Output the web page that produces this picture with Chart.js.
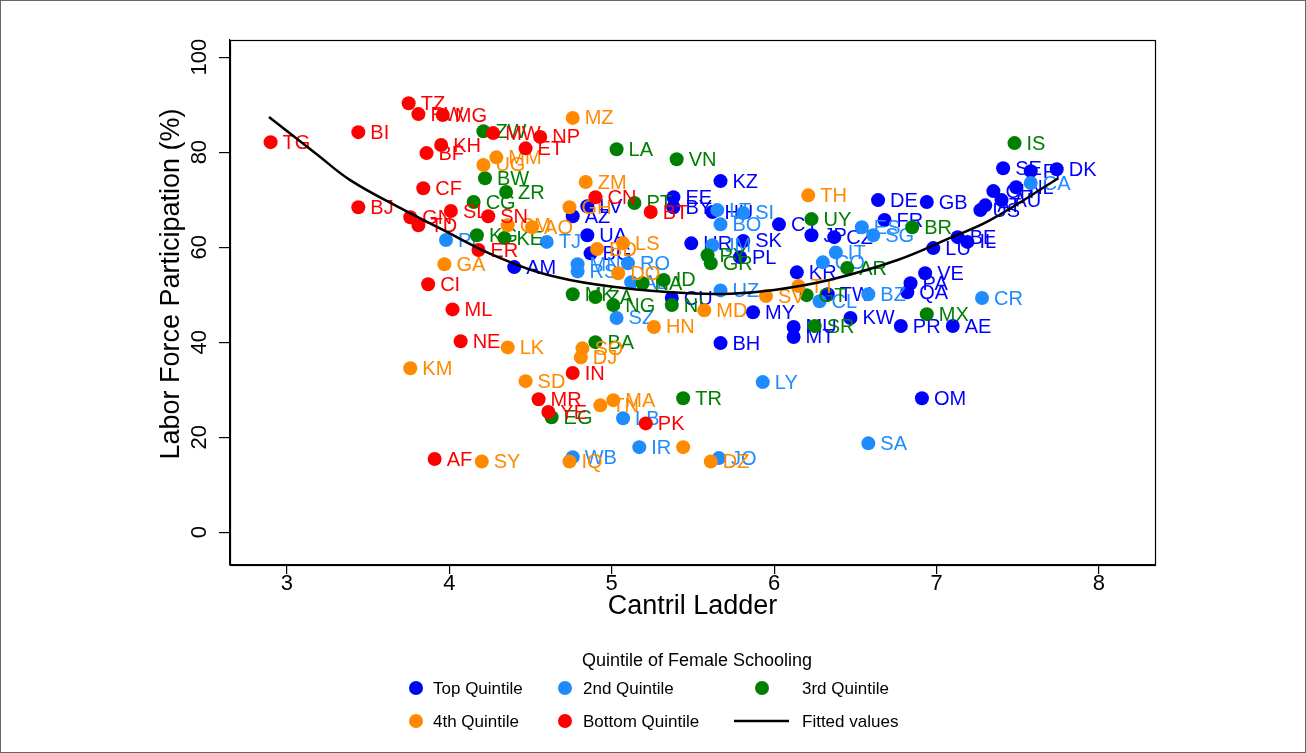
<!DOCTYPE html>
<html>
<head>
<meta charset="utf-8">
<script src="https://cdn.jsdelivr.net/npm/chart.js@4.4.1/dist/chart.umd.min.js"></script>
<style>
  html, body { margin: 0; padding: 0; background: #fff; }
  #wrap { width: 1306px; height: 753px; position: relative; }
</style>
</head>
<body>
<div id="wrap"><canvas id="chart"></canvas></div>
<script>
const xTicks = [3, 4, 5, 6, 7, 8];
const yTicks = [0, 20, 40, 60, 80, 100];

// Top quintile
const topLabels = ['KZ','EE','BY','LV','AZ','UA','BG','AM','HR','HU','SK','PL','CY','JP','CZ','DE','GB','FR','KR','TW','PA','VE','QA','PR','KW','MT','MU','MY','CU','BH','OM','AE','LU','BE','IL','US','AT','AU','CH','NL','SE','FI','DK'];
const topX = [5.67,5.38,5.38,4.85,4.76,4.85,4.87,4.40,5.49,5.62,5.81,5.79,6.03,6.23,6.37,6.64,6.94,6.68,6.14,6.33,6.84,6.93,6.82,6.78,6.47,6.12,6.12,5.87,5.37,5.67,6.91,7.10,6.98,7.13,7.19,7.27,7.30,7.40,7.35,7.49,7.41,7.58,7.74];
const topY = [73.9,70.5,68.4,68.6,66.5,62.5,58.7,55.8,60.8,67.4,61.3,57.9,64.8,62.5,62.1,69.9,69.5,65.7,54.7,50.1,52.4,54.5,50.5,43.4,45.1,41.1,43.2,46.3,49.3,39.8,28.2,43.4,59.8,62.1,61.1,67.8,68.8,69.9,71.8,72.6,76.6,76.0,76.4];

// 2nd quintile
const secLabels = ['PE','TJ','MN','RS','RO','AL','SZ','UZ','LT','SI','BO','JM','ES','SG','IT','CO','CL','BZ','CR','CA','LY','LB','IR','SA','JO','WB'];
const secX = [3.98,4.60,4.79,4.79,5.10,5.12,5.03,5.67,5.65,5.81,5.67,5.62,6.54,6.61,6.38,6.30,6.28,6.58,7.28,7.58,5.93,5.07,5.17,6.58,5.66,4.76];
const secY = [61.5,61.1,56.4,54.9,56.6,52.6,45.1,50.9,67.8,67.2,64.8,60.4,64.2,62.5,58.9,56.8,48.6,50.1,49.3,73.5,31.6,24.0,17.9,18.7,15.6,15.8];

// 3rd quintile
const thirdLabels = ['ZW','BW','ZR','CG','LA','VN','PT','UY','BR','IS','KE','KG','MK','ZA','NG','BA','NA','ID','NI','PY','GR','AR','GT','SR','MX','TR','EG'];
const thirdX = [4.21,4.22,4.35,4.15,5.03,5.40,5.14,6.23,6.85,7.48,4.34,4.17,4.76,4.90,5.01,4.90,5.19,5.32,5.37,5.59,5.61,6.45,6.20,6.25,6.94,5.44,4.63];
const thirdY = [84.4,74.5,71.6,69.5,80.6,78.5,69.3,65.9,64.2,81.9,61.9,62.5,50.1,49.5,47.8,40.0,52.4,53.1,47.8,58.3,56.6,55.6,49.9,43.4,45.9,28.2,24.2];

// 4th quintile
const fourthLabels = ['MZ','MM','UG','ZM','GH','TH','CM','AO','GA','LS','BD','DO','KM','LK','SO','DJ','SD','MA','TN','HN','MD','SV','TT','SY','IQ','','DZ'];
const fourthX = [4.76,4.29,4.21,4.84,4.74,6.21,4.36,4.51,3.97,5.07,4.91,5.04,3.76,4.36,4.82,4.81,4.47,5.01,4.93,5.26,5.57,5.95,6.15,4.20,4.74,5.44,5.61];
const fourthY = [87.2,78.9,77.3,73.7,68.4,70.9,64.6,64.2,56.4,60.8,59.6,54.5,34.5,38.9,38.7,36.8,31.8,27.8,26.7,43.2,46.7,49.7,51.8,14.9,14.9,17.9,14.9];

// Bottom quintile
const botLabels = ['TZ','RW','MG','BI','TG','KH','BF','MW','NP','ET','CF','BJ','GN','TD','SL','SN','ER','CN','BT','CI','ML','NE','IN','MR','YE','AF','PK'];
const botX = [3.75,3.81,3.96,3.44,2.90,3.95,3.86,4.27,4.56,4.47,3.84,3.44,3.76,3.81,4.01,4.24,4.18,4.90,5.24,3.87,4.02,4.07,4.76,4.55,4.61,3.91,5.21];
const botY = [90.3,88.0,87.8,84.2,82.1,81.5,79.8,84.0,83.2,80.8,72.4,68.4,66.3,64.6,67.6,66.5,59.4,70.5,67.4,52.2,46.9,40.2,33.5,28.0,25.3,15.4,22.9];

// Fitted values
const fitX = [2.89,3.19,3.39,3.70,3.94,4.30,4.66,5.07,5.48,5.73,6.00,6.34,6.76,7.08,7.33,7.75];
const fitY = [87.4,79.4,74.1,68.2,64.0,57.9,53.7,51.4,50.3,50.2,51.0,53.1,57.3,61.9,65.7,74.5];

const FONT = "'Liberation Sans', Arial, sans-serif";
const pts = (xs, ys) => xs.map((x, i) => ({x: x, y: ys[i]}));

function group(name, color, xs, ys, labels, order) {
    return {
        label: name,
        data: pts(xs, ys),
        pointLabels: labels,
        backgroundColor: color,
        borderColor: color,
        pointRadius: 7,
        pointHoverRadius: 7,
        pointBorderWidth: 0,
        order: order
    };
}

const pointLabelPlugin = {
    id: 'pointLabels',
    afterDatasetDraw(chart, args) {
        const ds = chart.data.datasets[args.index];
        if (!ds.pointLabels) return;
        const ctx = chart.ctx;
        ctx.save();
        ctx.font = '20px ' + FONT;
        ctx.fillStyle = ds.borderColor;
        ctx.textAlign = 'left';
        ctx.textBaseline = 'middle';
        args.meta.data.forEach((el, i) => {
            ctx.fillText(ds.pointLabels[i], el.x + 12, el.y + 1);
        });
        ctx.restore();
    }
};

const framePlugin = {
    id: 'frame',
    afterDraw(chart) {
        const ctx = chart.ctx;
        const a = chart.chartArea;
        ctx.save();
        ctx.strokeStyle = '#000';
        ctx.lineWidth = 1.2;
        ctx.strokeRect(a.left + 0.5, a.top + 0.5, a.right - a.left, a.bottom - a.top);
        ctx.strokeStyle = '#666';
        ctx.lineWidth = 1;
        ctx.strokeRect(0.5, 0.5, chart.width - 1, chart.height - 1);

        // rotated y tick labels and y title
        const ys = chart.scales.y;
        ctx.fillStyle = '#000';
        ctx.font = '22px ' + FONT;
        ctx.textAlign = 'center';
        ctx.textBaseline = 'middle';
        ys.ticks.forEach(t => {
            const py = ys.getPixelForValue(t.value);
            ctx.save();
            ctx.translate(200, py);
            ctx.rotate(-Math.PI / 2);
            ctx.fillText(String(t.value), 0, 0);
            ctx.restore();
        });
        ctx.save();
        ctx.font = '27px ' + FONT;
        ctx.translate(172, 284);
        ctx.rotate(-Math.PI / 2);
        ctx.fillText('Labor Force Participation (%)', 0, 0);
        ctx.restore();

        // legend
        ctx.font = '18px ' + FONT;
        ctx.textAlign = 'center';
        ctx.fillText('Quintile of Female Schooling', 697, 661);
        ctx.font = '17px ' + FONT;
        ctx.textAlign = 'left';
        const sets = chart.data.datasets;
        const items = [
            [sets[0], 416, 688, 433], [sets[1], 565, 688, 583], [sets[2], 762, 688, 802],
            [sets[3], 416, 721, 433], [sets[4], 565, 721, 583], [sets[5], 762, 721, 802]
        ];
        items.forEach(([ds, mx, my, tx]) => {
            if (ds.showLine) {
                ctx.strokeStyle = ds.borderColor;
                ctx.lineWidth = 2.5;
                ctx.beginPath();
                ctx.moveTo(734, my);
                ctx.lineTo(789, my);
                ctx.stroke();
            } else {
                ctx.fillStyle = ds.backgroundColor;
                ctx.beginPath();
                ctx.arc(mx, my, 7, 0, Math.PI * 2);
                ctx.fill();
            }
            ctx.fillStyle = '#000';
            ctx.fillText(ds.label, tx, my + 1);
        });
        ctx.restore();
    }
};

new Chart(document.getElementById('chart'), {
    type: 'scatter',
    data: {
        datasets: [
            group('Top Quintile', '#0000ff', topX, topY, topLabels, 5),
            group('2nd Quintile', '#1e8cff', secX, secY, secLabels, 4),
            group('3rd Quintile', '#008000', thirdX, thirdY, thirdLabels, 3),
            group('4th Quintile', '#ff8a00', fourthX, fourthY, fourthLabels, 2),
            group('Bottom Quintile', '#ff0000', botX, botY, botLabels, 1),
            {
                label: 'Fitted values',
                data: pts(fitX, fitY),
                showLine: true,
                borderColor: '#000',
                backgroundColor: '#000',
                borderWidth: 2.5,
                pointRadius: 0,
                tension: 0.4,
                order: 0
            }
        ]
    },
    options: {
        responsive: true,
        maintainAspectRatio: false,
        animation: false,
        devicePixelRatio: 1,
        layout: { padding: { left: 130, right: 151, top: 40, bottom: 128 } },
        plugins: { legend: { display: false }, tooltip: { enabled: false } },
        scales: {
            x: {
                type: 'linear',
                min: 2.65,
                max: 8.345,
                afterBuildTicks: s => { s.ticks = xTicks.map(v => ({value: v})); },
                afterFit: s => { s.height = 60; },
                grid: { display: true, drawOnChartArea: false, drawTicks: true, tickLength: 9, color: '#000', lineWidth: 1.2 },
                border: { display: true, color: '#000', width: 1.2 },
                ticks: { color: '#000', font: { family: FONT, size: 22 }, padding: -3, maxRotation: 0 },
                title: { display: true, text: 'Cantril Ladder', color: '#000', font: { family: FONT, size: 27 }, padding: { top: 0, bottom: 2 } }
            },
            y: {
                type: 'linear',
                min: -6.9,
                max: 103.6,
                afterBuildTicks: s => { s.ticks = yTicks.map(v => ({value: v})); },
                afterFit: s => { s.width = 100; },
                grid: { display: true, drawOnChartArea: false, drawTicks: true, tickLength: 11, color: '#000', lineWidth: 1.2 },
                border: { display: true, color: '#000', width: 1.2 },
                ticks: { display: false },
                title: { display: false }
            }
        }
    },
    plugins: [pointLabelPlugin, framePlugin]
});
</script>
</body>
</html>
